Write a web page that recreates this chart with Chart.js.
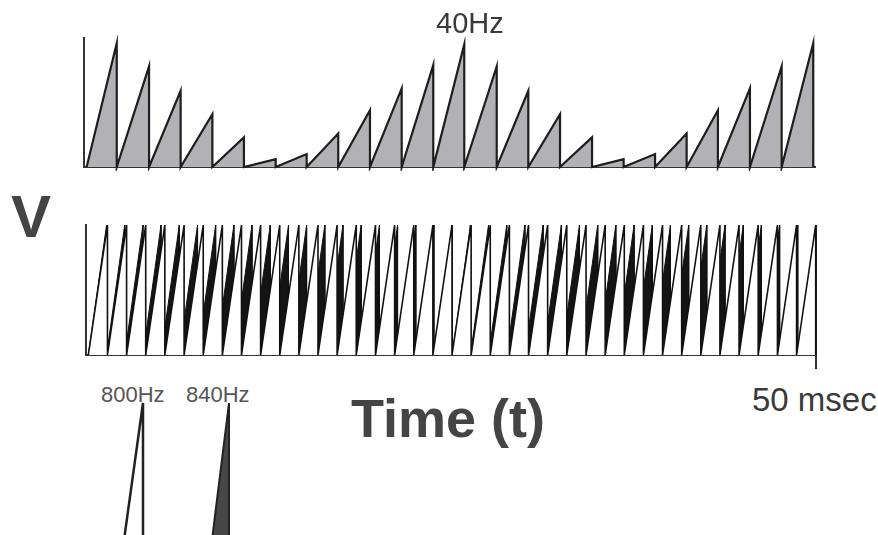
<!DOCTYPE html>
<html lang="en">
<head>
  <meta charset="UTF-8">
  <title>Beats: 800Hz + 840Hz</title>
  <script src="https://cdn.jsdelivr.net/npm/chart.js"></script>
  <style>
    body { margin: 0; background: #fff; font-family: 'Liberation Sans', Arial, sans-serif; }
    #stage { position: relative; width: 878px; height: 535px; overflow: hidden; }
    .panel { position: absolute; left: 0; width: 878px; }
    .lbl { position: absolute; white-space: nowrap; line-height: 1; color: #3a3a3a; }
    .big { font-weight: bold; color: #444; }
    svg { position: absolute; left: 0; top: 0; }
  </style>
</head>
<body>
<div id="stage">
  <div class="panel" style="top:0;height:180px"><canvas id="envChart"></canvas></div>
  <div class="panel" style="top:200px;height:180px"><canvas id="waveChart"></canvas></div>

  <div class="lbl" style="left:436px;top:9px;font-size:29px">40Hz</div>
  <div class="lbl big" style="left:11px;top:187px;font-size:60px">V</div>
  <div class="lbl big" style="left:351px;top:391px;font-size:54px">Time (t)</div>
  <div class="lbl" style="left:752px;top:383px;font-size:33px">50 msec</div>
  <div class="lbl" style="left:101px;top:384px;font-size:22px;color:#555">800Hz</div>
  <div class="lbl" style="left:186px;top:384px;font-size:22px;color:#555">840Hz</div>

  <!-- legend glyphs -->
  <svg width="878" height="535">
    <polygon points="124,540 143,403 143,540" fill="#fff" stroke="#222" stroke-width="2.5"/>
    <polygon points="212,540 229,403 229,540" fill="#474747" stroke="#222" stroke-width="2"/>
  </svg>
</div>

<script>
  // --- top panel: 40Hz beat envelope (msec, relative height) ---
  const envStart = 0.18;
  const envPeaks = [2.24, 4.45, 6.61, 8.78, 10.94, 13.11, 15.23, 17.39, 19.56, 21.73, 23.89, 26.01,
                    28.23, 30.39, 32.56, 34.75, 36.91, 39.06, 41.22, 43.36, 45.55, 47.72, 49.88];
  const envHeights = [0.96, 0.78, 0.59, 0.41, 0.23, 0.06, 0.10, 0.26, 0.44, 0.61, 0.79, 0.95,
                      0.78, 0.59, 0.41, 0.23, 0.06, 0.10, 0.26, 0.44, 0.61, 0.78, 0.96];

  // --- bottom panel: the two sawtooth waves (peak times in msec) ---
  const waveStart = 0.16;
  const peaks800 = [1.47, 2.78, 4.09, 5.40, 6.72, 8.03, 9.34, 10.65, 11.96, 13.27, 14.58, 15.89, 17.20,
                    18.51, 19.83, 21.14, 22.45, 23.76, 25.07, 26.38, 27.69, 29.00, 30.31, 31.62, 32.93,
                    34.25, 35.56, 36.87, 38.18, 39.49, 40.80, 42.11, 43.42, 44.73, 46.04, 47.36, 48.67, 49.98];
  const peaks840 = [1.41, 2.65, 3.90, 5.14, 6.39, 7.64, 8.88, 10.13, 11.37, 12.62, 13.87, 15.11, 16.36,
                    17.60, 18.85, 20.10, 21.34, 22.59, 23.83, 25.08, 26.33, 27.57, 28.82, 30.06, 31.31,
                    32.56, 33.80, 35.05, 36.29, 37.54, 38.79, 40.03, 41.28, 42.52, 43.77, 45.02, 46.26,
                    47.51, 48.75, 50.00];

  // each tooth rises from the baseline to its peak, then drops straight back down
  function teeth(start, peaks, heights) {
    const pts = [{ x: start, y: 0 }];
    peaks.forEach((p, i) => {
      pts.push({ x: p, y: heights ? heights[i] : 1 });
      pts.push({ x: p, y: 0 });
    });
    return pts;
  }

  function axes(extraX) {
    return {
      x: Object.assign({
        type: 'linear', min: 0, max: 50,
        grid: { display: false, drawTicks: false },
        ticks: { display: false },
        border: { display: true, color: '#333', width: 2 }
      }, extraX || {}),
      y: {
        min: 0, max: 1,
        grid: { display: false, drawTicks: false },
        ticks: { display: false },
        border: { display: true, color: '#333', width: 2 }
      }
    };
  }

  const common = {
    responsive: true,
    maintainAspectRatio: false,
    animation: false,
    events: [],
    plugins: { legend: { display: false }, tooltip: { enabled: false } },
    elements: { point: { radius: 0 }, line: { tension: 0 } }
  };

  new Chart(document.getElementById('envChart'), {
    type: 'line',
    data: {
      datasets: [{
        data: teeth(envStart, envPeaks, envHeights),
        borderColor: '#1e1e1e',
        borderWidth: 2.2,
        backgroundColor: '#b2b2b6',
        fill: 'origin',
        clip: 4
      }]
    },
    options: Object.assign({}, common, {
      layout: { padding: { left: 84, right: 63, top: 38, bottom: 13 } },
      scales: axes()
    })
  });

  new Chart(document.getElementById('waveChart'), {
    type: 'line',
    data: {
      datasets: [{
        label: '800Hz',
        data: teeth(waveStart, peaks800),
        borderColor: '#111',
        borderWidth: 1.6,
        backgroundColor: '#fff',
        fill: 'origin',
        clip: 4
      }, {
        label: '840Hz',
        data: teeth(waveStart, peaks840),
        borderColor: '#111',
        borderWidth: 1,
        backgroundColor: '#141414',
        fill: 'origin',
        clip: 4
      }]
    },
    options: Object.assign({}, common, {
      layout: { padding: { left: 86, right: 62, top: 25, bottom: 11 } },
      scales: axes({
        afterBuildTicks: scale => { scale.ticks = [{ value: 50 }]; },
        grid: { display: true, drawOnChartArea: false, drawTicks: true, tickLength: 14, color: '#333', lineWidth: 2 }
      })
    })
  });
</script>
</body>
</html>
